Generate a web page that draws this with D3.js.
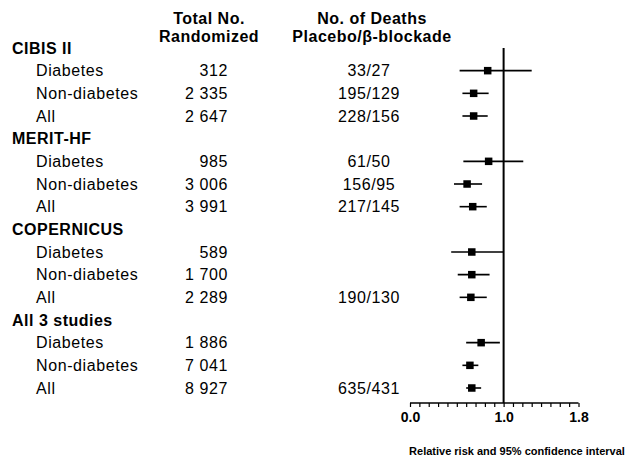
<!DOCTYPE html>
<html>
<head>
<meta charset="utf-8">
<script src="https://cdn.jsdelivr.net/npm/d3@7"></script>
<style>
  html, body { margin: 0; padding: 0; background: #fff; }
  svg { display: block; font-family: "Liberation Sans", Arial, Helvetica, sans-serif; }
  .lbl { font-size: 16px; letter-spacing: 0.6px; fill: #000; }
  .hdr { font-size: 16px; letter-spacing: 0.5px; font-weight: bold; fill: #000; }
</style>
</head>
<body>
<svg id="chart" width="626" height="456"></svg>
<script>
// Trials and the subgroups reported within each
const studies = ["CIBIS II", "MERIT-HF", "COPERNICUS", "All 3 studies"];
const subgroups = ["Diabetes", "Non-diabetes", "All"];

// Patients randomized, one value per study × subgroup
const randomized = [312, 2335, 2647, 985, 3006, 3991, 589, 1700, 2289, 1886, 7041, 8927];

// Deaths placebo / beta-blockade (blank where not reported)
const deaths = ["33/27", "195/129", "228/156", "61/50", "156/95", "217/145",
                "", "", "190/130", "", "", "635/431"];

// Relative risk with 95% confidence limits
const rr    = [0.83, 0.68, 0.68, 0.84, 0.61, 0.67, 0.66, 0.66, 0.65, 0.76, 0.64, 0.66];
const ciLow = [0.53, 0.56, 0.56, 0.57, 0.47, 0.53, 0.44, 0.51, 0.53, 0.60, 0.56, 0.60];
const ciHigh= [1.30, 0.84, 0.83, 1.21, 0.77, 0.82, 1.00, 0.85, 0.82, 0.96, 0.73, 0.76];

// Axis ticks
const majorTicks = [0.0, 1.0, 1.8];
const minorTicks = d3.range(0, 19).map(i => i / 10);

const svg = d3.select("#chart");

// Build the row list: a header row for each study followed by its subgroups
const rows = [];
studies.forEach((s, si) => {
  rows.push({ type: "study", label: s });
  subgroups.forEach((g, gi) => {
    const k = si * subgroups.length + gi;
    rows.push({ type: "sub", label: g, n: randomized[k], deaths: deaths[k],
                rr: rr[k], lo: ciLow[k], hi: ciHigh[k] });
  });
});

const y = d3.scalePoint().domain(d3.range(rows.length)).range([48, 388]);
const x = d3.scaleLinear().domain([0, 1.8]).range([410, 578.5]);
const axisY = 403;

const fmt = d3.formatLocale({ decimal: ".", thousands: " ", grouping: [3], currency: ["", ""] }).format(",");

// Column headings
const head = svg.append("g").attr("class", "hdr").attr("text-anchor", "middle");
head.append("text").attr("x", 209).attr("y", 24).text("Total No.");
head.append("text").attr("x", 209).attr("y", 42).text("Randomized");
head.append("text").attr("x", 372).attr("y", 24).text("No. of Deaths");
head.append("text").attr("x", 372).attr("y", 42).text("Placebo/β-blockade");

// Row text
const rowG = svg.append("g");
rows.forEach((r, i) => {
  const yy = y(i) + 5.5;
  if (r.type === "study") {
    rowG.append("text").attr("class", "hdr").attr("x", 12).attr("y", yy).text(r.label);
  } else {
    rowG.append("text").attr("class", "lbl").attr("x", 36).attr("y", yy).text(r.label);
    rowG.append("text").attr("class", "lbl").attr("x", 228).attr("y", yy)
      .attr("text-anchor", "end").text(fmt(r.n));
    if (r.deaths) {
      rowG.append("text").attr("class", "lbl").attr("x", 369).attr("y", yy)
        .attr("text-anchor", "middle").text(r.deaths);
    }
  }
});

// Line of no effect
svg.append("line")
  .attr("x1", x(1)).attr("x2", x(1))
  .attr("y1", 48).attr("y2", axisY)
  .attr("stroke", "#000").attr("stroke-width", 2);

// Confidence intervals and point estimates
const subRows = rows.map((r, i) => ({ ...r, i })).filter(r => r.type === "sub");
const marks = svg.append("g");
marks.selectAll("line.ci").data(subRows).join("line")
  .attr("class", "ci")
  .attr("x1", d => x(d.lo)).attr("x2", d => x(d.hi))
  .attr("y1", d => y(d.i)).attr("y2", d => y(d.i))
  .attr("stroke", "#000").attr("stroke-width", 1.6);
const sq = 7.5;
marks.selectAll("rect.pt").data(subRows).join("rect")
  .attr("class", "pt")
  .attr("x", d => x(d.rr) - sq / 2).attr("y", d => y(d.i) - sq / 2)
  .attr("width", sq).attr("height", sq)
  .attr("fill", "#000");

// Horizontal axis
const axis = d3.axisBottom(x)
  .tickValues(minorTicks)
  .tickSize(4)
  .tickPadding(5)
  .tickFormat(d => majorTicks.some(m => Math.abs(m - d) < 1e-9) ? d3.format(".1f")(d) : "");
const ax = svg.append("g").attr("transform", `translate(0,${axisY})`).call(axis);
ax.select(".domain").attr("stroke-width", 1.6).attr("d", `M${x(0)},0H${x(1.8)}`);
ax.selectAll(".tick line").attr("stroke-width", 1.2);
ax.selectAll(".tick text")
  .attr("font-family", "'Liberation Sans', Arial, sans-serif")
  .attr("font-size", 14).attr("font-weight", "bold").attr("fill", "#000");

svg.append("text")
  .attr("x", 517).attr("y", 455)
  .attr("text-anchor", "middle")
  .attr("font-size", 11).attr("font-weight", "bold")
  .text("Relative risk and 95% confidence interval");
</script>
</body>
</html>
